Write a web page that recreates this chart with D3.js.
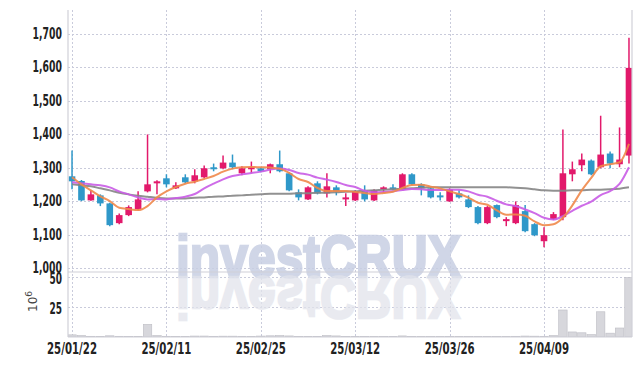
<!DOCTYPE html>
<html lang="ko">
<head>
<meta charset="UTF-8">
<title>Candlestick chart</title>
<script src="https://d3js.org/d3.v7.min.js"></script>
<style>
  body { margin: 0; background: #fff; }
  svg { display: block; font-family: "DejaVu Sans", sans-serif; }
  .tick-label { font-size: 15px; font-weight: bold; fill: #222; }
  .grid { stroke: #c9cbdb; stroke-width: 1; stroke-dasharray: 2,2; }
  .frame { stroke: #d0d0d8; stroke-width: 1.2; fill: none; }
</style>
</head>
<body>
<svg id="chart"></svg>
<script>
// trading days
const dates = ["25/01/22","25/01/23","25/01/24","25/01/31","25/02/03","25/02/04","25/02/05","25/02/06","25/02/07","25/02/10",
  "25/02/11","25/02/12","25/02/13","25/02/14","25/02/17","25/02/18","25/02/19","25/02/20","25/02/21","25/02/24",
  "25/02/25","25/02/26","25/02/27","25/02/28","25/03/04","25/03/05","25/03/06","25/03/07","25/03/10","25/03/11",
  "25/03/12","25/03/13","25/03/14","25/03/17","25/03/18","25/03/19","25/03/20","25/03/21","25/03/24","25/03/25",
  "25/03/26","25/03/27","25/03/28","25/03/31","25/04/01","25/04/02","25/04/03","25/04/04","25/04/07","25/04/08",
  "25/04/09","25/04/10","25/04/11","25/04/14","25/04/15","25/04/16","25/04/17","25/04/18","25/04/21","25/04/22"];

const opens  = [1274,1260,1202,1217,1193,1134,1158,1176,1229,1253,1268,1238,1271,1259,1271,1301,1298,1315,1283,1295,
  1298,1295,1310,1283,1226,1205,1253,1223,1241,1205,1202,1232,1202,1235,1241,1235,1280,1250,1238,1217,
  1199,1223,1205,1182,1134,1188,1140,1134,1170,1131,1080,1146,1152,1280,1307,1321,1301,1342,1310,1336];
const highs  = [1351,1263,1232,1220,1195,1163,1187,1229,1399,1262,1280,1256,1280,1295,1306,1312,1336,1339,1304,1318,
  1301,1312,1351,1286,1235,1244,1259,1283,1247,1223,1232,1247,1235,1244,1250,1283,1283,1253,1241,1226,
  1238,1232,1217,1185,1185,1190,1152,1199,1188,1134,1122,1167,1414,1318,1342,1324,1455,1348,1420,1688];
const lows   = [1235,1200,1201,1185,1125,1131,1155,1172,1226,1220,1241,1236,1253,1253,1268,1289,1295,1295,1277,1283,
  1286,1283,1286,1229,1202,1203,1220,1211,1217,1185,1200,1199,1200,1226,1232,1232,1247,1217,1208,1202,
  1198,1208,1179,1131,1131,1149,1125,1131,1107,1095,1062,1143,1143,1259,1289,1277,1298,1298,1301,1312];
const closes = [1259,1202,1220,1193,1128,1158,1182,1205,1250,1259,1250,1247,1256,1277,1298,1295,1315,1301,1298,1301,
  1289,1310,1289,1232,1211,1241,1223,1244,1229,1211,1229,1205,1232,1241,1235,1280,1250,1238,1211,1211,
  1235,1211,1182,1134,1182,1152,1146,1188,1110,1098,1098,1161,1283,1295,1324,1280,1339,1312,1324,1598];

// volume, in 10^6 shares
const volume = [1.8,1.2,0.6,0.5,1.0,0.6,0.4,0.5,10.5,1.2,0.6,0.5,0.5,0.8,0.8,0.6,0.7,0.7,0.6,0.5,
  0.8,1.0,1.2,0.9,0.5,0.5,0.4,1.2,0.9,0.4,0.4,0.4,0.3,0.3,0.4,0.9,0.4,0.3,0.3,0.3,
  0.4,0.3,0.3,0.3,0.3,0.3,0.3,0.6,0.8,0.7,0.6,1.2,22.5,4.2,3.5,2.0,21.0,3.2,7.5,49.5];

// moving averages
const ma5  = [1271,1250,1232,1214,1200,1180,1176,1173,1185,1211,1229,1242,1252,1258,1266,1275,1288,1297,1301,1302,
  1301,1300,1297,1284,1266,1257,1239,1230,1230,1230,1227,1224,1221,1224,1228,1239,1248,1249,1243,1238,
  1229,1221,1210,1195,1189,1172,1159,1160,1156,1139,1128,1131,1150,1187,1232,1269,1304,1310,1316,1371];
const ma10 = [1256,1253,1250,1247,1241,1229,1220,1211,1205,1206,1205,1209,1213,1221,1238,1252,1265,1275,1280,1284,
  1288,1294,1297,1293,1284,1279,1270,1264,1257,1248,1242,1231,1226,1227,1229,1233,1236,1235,1233,1233,
  1234,1234,1229,1219,1213,1201,1190,1185,1175,1164,1150,1145,1155,1171,1186,1198,1218,1230,1251,1301];
const maLong = [1250,1247,1244,1238,1232,1225,1220,1216,1213,1210,1208,1208,1208,1210,1211,1213,1214,1216,1217,1219,
  1220,1222,1222,1222,1223,1223,1225,1225,1226,1228,1229,1231,1232,1234,1235,1237,1238,1240,1241,1241,
  1241,1241,1241,1241,1241,1241,1241,1240,1238,1235,1232,1231,1231,1232,1232,1234,1234,1235,1237,1241];

const priceTicks = [1000,1100,1200,1300,1400,1500,1600,1700];
const volumeTicks = [25,50];
const dateTicks = ["25/01/22","25/02/11","25/02/25","25/03/12","25/03/26","25/04/09"];

const width = 642, height = 366;
const plotLeft = 68, plotRight = 632, plotTop = 10, priceBottom = 272, volTop = 273, volBottom = 337;

const svg = d3.select("#chart").attr("width", width).attr("height", height);

const x = d3.scaleBand().domain(dates).range([67.3, 633.7]).padding(0);
const cx = d => x(d) + x.bandwidth() / 2;
const y = d3.scaleLinear().domain([988, 1771]).range([priceBottom, plotTop]);
const yv = d3.scaleLinear().domain([0, 53.3]).range([volBottom, volTop]);

svg.append("clipPath").attr("id", "clipPrice")
  .append("rect").attr("x", plotLeft).attr("y", plotTop).attr("width", plotRight - plotLeft).attr("height", priceBottom - plotTop);
svg.append("clipPath").attr("id", "clipVol")
  .append("rect").attr("x", plotLeft).attr("y", volTop).attr("width", plotRight - plotLeft).attr("height", volBottom - volTop);

// grid
const grid = svg.append("g");
grid.selectAll(".hp").data(priceTicks).enter().append("line")
  .attr("class", "grid").attr("x1", plotLeft).attr("x2", plotRight)
  .attr("y1", d => Math.round(y(d)) + 0.5).attr("y2", d => Math.round(y(d)) + 0.5);
grid.selectAll(".hv").data(volumeTicks).enter().append("line")
  .attr("class", "grid").attr("x1", plotLeft).attr("x2", plotRight)
  .attr("y1", d => Math.round(yv(d)) + 0.5).attr("y2", d => Math.round(yv(d)) + 0.5);
grid.selectAll(".vx").data(dateTicks).enter().append("line")
  .attr("class", "grid").attr("y1", plotTop).attr("y2", volBottom)
  .attr("x1", d => Math.round(cx(d)) + 0.5).attr("x2", d => Math.round(cx(d)) + 0.5);

// watermark and its reflection
const wm = svg.append("g")
  .style("font-family", "'Liberation Sans', Arial, sans-serif").style("font-weight", "bold")
  .style("font-size", "60px");
wm.append("text").attr("x", 176).attr("y", 277)
  .attr("textLength", 285).attr("lengthAdjust", "spacingAndGlyphs")
  .style("fill", "#c8cfe3").style("stroke", "#c8cfe3").style("stroke-width", 2.5).style("opacity", 0.85)
  .text("investCRUX");
wm.append("text").attr("x", 176).attr("y", -277)
  .attr("transform", "scale(1,-1)")
  .attr("textLength", 285).attr("lengthAdjust", "spacingAndGlyphs")
  .style("fill", "#e2e4ec").style("stroke", "#e2e4ec").style("stroke-width", 2.5).style("opacity", 0.75)
  .text("investCRUX");

// white cover below the volume panel so the reflection stays inside
svg.append("rect").attr("x", 0).attr("y", volBottom + 1).attr("width", width).attr("height", height - volBottom)
  .attr("fill", "#fff");

// volume bars
svg.append("g").attr("clip-path", "url(#clipVol)")
  .selectAll("rect").data(dates).enter().append("rect")
  .attr("x", d => x(d) + 0.5).attr("width", x.bandwidth() - 1)
  .attr("y", (d, i) => yv(volume[i])).attr("height", (d, i) => volBottom - yv(volume[i]))
  .attr("fill", "#d7d7dc").attr("stroke", "#bdbdc4").attr("stroke-width", 0.6);

// candles
const up = "#e2196b", down = "#2f98c9";
const candles = svg.append("g").attr("clip-path", "url(#clipPrice)");
const cg = candles.selectAll("g").data(dates).enter().append("g");
cg.append("line")
  .attr("x1", d => cx(d)).attr("x2", d => cx(d))
  .attr("y1", (d, i) => y(highs[i])).attr("y2", (d, i) => y(lows[i]))
  .attr("stroke", (d, i) => closes[i] >= opens[i] ? up : down).attr("stroke-width", 1.5);
cg.append("rect")
  .attr("x", d => cx(d) - 3.3).attr("width", 6.6)
  .attr("y", (d, i) => y(Math.max(opens[i], closes[i])))
  .attr("height", (d, i) => Math.max(1.5, Math.abs(y(opens[i]) - y(closes[i]))))
  .attr("fill", (d, i) => closes[i] >= opens[i] ? up : down);

// moving average lines
const line = d3.line().x((d, i) => cx(dates[i])).y(d => y(d)).curve(d3.curveMonotoneX);
const lines = svg.append("g").attr("clip-path", "url(#clipPrice)").attr("fill", "none");
lines.append("path").attr("d", line(maLong)).attr("stroke", "#858585").attr("stroke-width", 2).attr("opacity", 0.9);
lines.append("path").attr("d", line(ma10)).attr("stroke", "#c95ce6").attr("stroke-width", 2).attr("opacity", 0.9);
lines.append("path").attr("d", line(ma5)).attr("stroke", "#f0884a").attr("stroke-width", 2).attr("opacity", 0.9);

// frame
svg.append("line").attr("class", "frame").attr("x1", plotLeft).attr("x2", plotLeft).attr("y1", plotTop).attr("y2", volBottom);
svg.append("line").attr("class", "frame").attr("x1", plotRight).attr("x2", plotRight).attr("y1", plotTop).attr("y2", volBottom);
svg.append("line").attr("class", "frame").attr("x1", plotLeft).attr("x2", plotRight).attr("y1", priceBottom).attr("y2", priceBottom);
svg.append("line").attr("class", "frame").attr("x1", plotLeft).attr("x2", plotRight).attr("y1", volBottom).attr("y2", volBottom);

// axis labels (narrowed to look like the condensed face of the original)
svg.append("g").selectAll("text").data(priceTicks).enter().append("text")
  .attr("class", "tick-label").attr("transform", d => `translate(62,${y(d) + 5}) scale(0.62,1)`)
  .attr("text-anchor", "end").text(d => d3.format(",")(d));
svg.append("g").selectAll("text").data(volumeTicks).enter().append("text")
  .attr("class", "tick-label").attr("transform", d => `translate(62,${yv(d) + 7}) scale(0.6,1)`)
  .attr("text-anchor", "end").text(d => d);
svg.append("g").selectAll("text").data(dateTicks).enter().append("text")
  .attr("class", "tick-label").attr("transform", d => `translate(${cx(d)},354) scale(0.68,1)`)
  .attr("text-anchor", "middle").text(d => d);

const unit = svg.append("text").attr("transform", "translate(37,312) rotate(-90)")
  .style("font-family", "'DejaVu Sans', sans-serif").style("font-size", "12px").style("fill", "#444");
unit.append("tspan").text("10");
unit.append("tspan").attr("dy", -5).style("font-size", "9px").text("6");
</script>
</body>
</html>
